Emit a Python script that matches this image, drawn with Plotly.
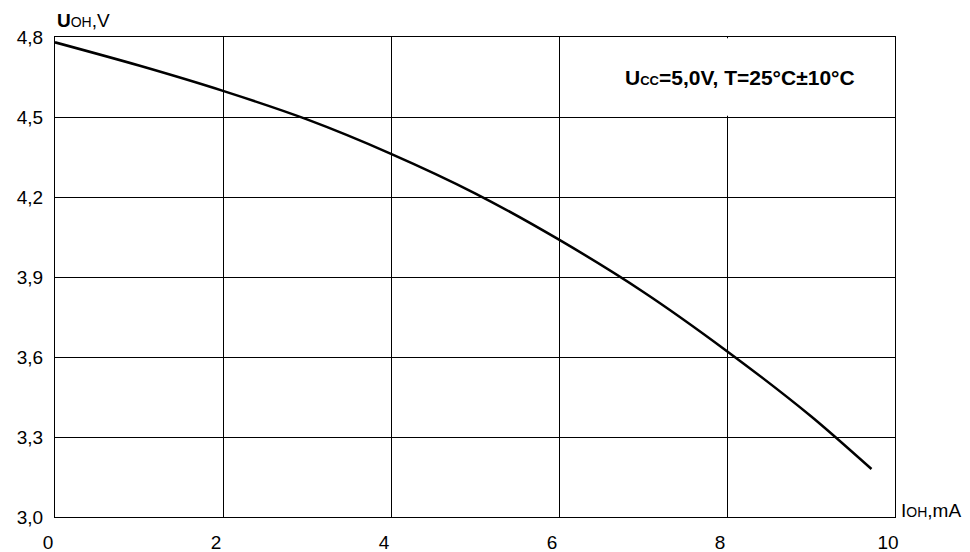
import plotly.graph_objects as go

# Data
i_oh = [0, 1, 2, 3, 4, 5, 6, 7, 8, 9, 9.72]
u_oh = [4.78, 4.693, 4.598, 4.491, 4.362, 4.214, 4.04, 3.845, 3.622, 3.378, 3.18]

x_ticks = [0, 2, 4, 6, 8, 10]
x_tick_text = ["0", "2", "4", "6", "8", "10"]
y_ticks = [3.0, 3.3, 3.6, 3.9, 4.2, 4.5, 4.8]
y_tick_text = ["3,0", "3,3", "3,6", "3,9", "4,2", "4,5", "4,8"]

FONT = "Liberation Sans, Arial, sans-serif"

fig = go.Figure()
fig.add_trace(go.Scatter(
    x=i_oh, y=u_oh, mode="lines",
    line=dict(color="black", width=2.5, shape="spline", smoothing=0.8),
    showlegend=False, hoverinfo="skip",
))

# page body has an 8px default margin, so the figure is sized/offset accordingly
fig.update_layout(
    width=962, height=544,
    margin=dict(l=47, r=75, t=29, b=35, autoexpand=False),
    paper_bgcolor="white", plot_bgcolor="white",
    font=dict(family=FONT, color="black", size=18),
    xaxis=dict(
        range=[0, 10], tickvals=x_ticks, ticktext=x_tick_text,
        showgrid=True, gridcolor="black", gridwidth=1,
        showline=True, linecolor="black", linewidth=1, mirror=True,
        zeroline=False, ticks="", ticklabelstandoff=8, ticklabelshift=-7,
        automargin=False,
        tickfont=dict(size=19, family=FONT, color="black"),
    ),
    yaxis=dict(
        range=[3.0, 4.8], tickvals=y_ticks, ticktext=y_tick_text,
        showgrid=True, gridcolor="black", gridwidth=1,
        showline=True, linecolor="black", linewidth=1, mirror=True,
        zeroline=False, ticks="", ticklabelstandoff=7,
        automargin=False,
        tickfont=dict(size=19, family=FONT, color="black"),
    ),
)

# white mask hiding the x=8 gridline behind the condition label
fig.add_shape(type="rect", xref="x", yref="y", x0=7.9, x1=8.1, y0=4.505, y1=4.795,
              fillcolor="white", line=dict(width=0), layer="above")

fig.add_annotation(
    xref="x", yref="y", x=8.15, y=4.65, xanchor="center", yanchor="middle",
    text="<b>U<span style='font-size:13px'>CC</span>=5,0V, T=25°C±10°C</b>",
    showarrow=False, font=dict(size=21, family=FONT, color="black"),
)
fig.add_annotation(
    xref="paper", yref="y", x=0, y=4.8, xanchor="left", yanchor="middle", yshift=17,
    text="<b>U</b><span style='font-size:14px'>OH</span>,V",
    showarrow=False, font=dict(size=19, family=FONT, color="black"),
)
fig.add_annotation(
    xref="paper", yref="y", x=1, y=3.0, xanchor="left", yanchor="middle", xshift=4, yshift=7,
    text="I<span style='font-size:14px'>OH</span>,mA",
    showarrow=False, font=dict(size=19, family=FONT, color="black"),
)

fig.write_html("out.html")
